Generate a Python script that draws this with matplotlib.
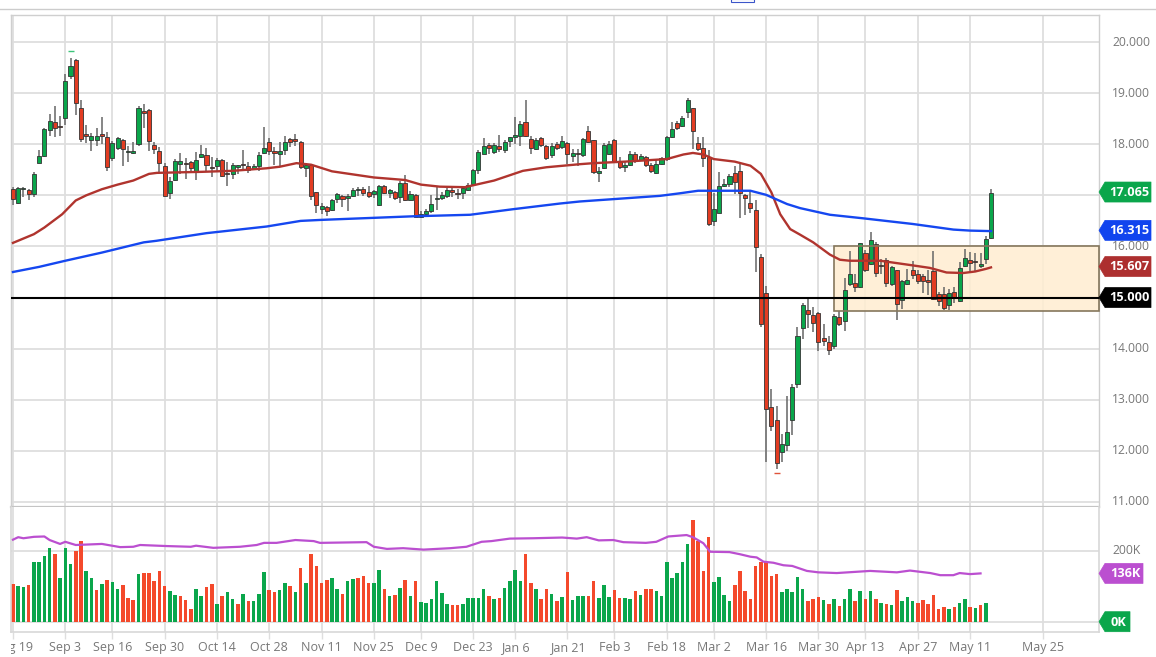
import matplotlib
matplotlib.use("Agg")
import matplotlib.pyplot as plt
from matplotlib.patches import Polygon, Rectangle
from matplotlib.transforms import Bbox, IdentityTransform

# daily candles
opens = [
    17.12, 16.86, 17.12, 17.10, 17.02, 17.63, 17.77, 18.28, 18.44, 18.35,
    18.51, 19.34, 19.64, 18.71, 18.20, 18.08, 18.09, 18.19, 18.14, 17.74,
    17.92, 18.09, 17.84, 17.83, 18.01, 18.64, 18.67, 17.98, 17.87, 17.58,
    17.04, 17.31, 17.61, 17.62, 17.65, 17.48, 17.76, 17.79, 17.54, 17.58,
    17.69, 17.43, 17.41, 17.56, 17.61, 17.58, 17.53, 17.57, 17.82, 18.05,
    17.86, 17.80, 17.88, 18.10, 18.11, 18.05, 17.54, 17.60, 17.06, 16.74,
    16.77, 16.71, 16.92, 16.99, 16.94, 16.99, 17.10, 17.13, 17.07, 17.02,
    16.81, 17.18, 17.04, 17.07, 16.96, 17.25, 16.91, 17.01, 16.58, 16.63,
    16.69, 16.92, 16.95, 16.99, 17.09, 17.05, 17.05, 17.10, 17.22, 17.50,
    17.81, 17.99, 17.84, 17.96, 17.89, 18.06, 18.15, 18.17, 18.44, 18.11,
    17.90, 18.12, 17.97, 17.78, 18.01, 17.94, 18.03, 17.77, 17.83, 17.79,
    18.25, 18.08, 17.43, 17.53, 17.81, 18.09, 17.65, 17.55, 17.60, 17.80,
    17.69, 17.75, 17.60, 17.44, 17.61, 17.71, 18.14, 18.42, 18.35, 18.63,
    18.70, 18.03, 17.93, 17.75, 16.49, 16.65, 17.19, 17.22, 17.43, 17.47,
    17.00, 16.86, 16.71, 15.80, 15.08, 12.85, 12.60, 11.97, 12.11, 12.60,
    13.31, 14.40, 14.75, 14.65, 14.69, 14.20, 14.13, 14.05, 14.61, 14.54,
    15.27, 15.29, 15.20, 15.87, 15.66, 16.05, 15.64, 15.74, 15.27, 15.53,
    14.95, 15.27, 15.53, 15.47, 15.42, 15.32, 15.52, 15.06, 15.07, 14.85,
    15.10, 14.93, 15.62, 15.74, 15.70, 15.62, 15.75, 16.17,
]
closes = [
    16.93, 17.14, 17.14, 17.03, 17.41, 17.77, 18.29, 18.45, 18.32, 18.33,
    19.23, 19.54, 18.80, 18.11, 18.16, 18.17, 18.16, 18.17, 17.56, 18.02,
    18.13, 17.91, 17.87, 17.86, 18.71, 18.62, 18.07, 17.90, 17.64, 16.99,
    17.29, 17.67, 17.67, 17.61, 17.53, 17.69, 17.80, 17.60, 17.53, 17.70,
    17.37, 17.41, 17.60, 17.58, 17.59, 17.49, 17.58, 17.79, 17.92, 17.87,
    17.82, 17.86, 18.05, 18.05, 18.06, 17.55, 17.59, 16.99, 16.81, 16.79,
    16.69, 16.90, 17.02, 16.93, 16.99, 17.10, 17.12, 17.05, 16.98, 17.08,
    17.18, 17.04, 17.10, 16.95, 17.25, 16.91, 17.03, 16.58, 16.63, 16.69,
    16.84, 16.94, 17.00, 17.10, 17.07, 17.03, 17.14, 17.21, 17.49, 17.85,
    17.97, 17.92, 17.99, 17.91, 18.04, 18.14, 18.16, 18.39, 18.16, 17.92,
    18.09, 17.98, 17.73, 17.97, 17.92, 18.06, 17.80, 17.82, 17.81, 18.11,
    18.05, 17.45, 17.47, 17.98, 18.01, 17.66, 17.55, 17.60, 17.81, 17.67,
    17.77, 17.59, 17.48, 17.61, 17.73, 18.14, 18.29, 18.31, 18.52, 18.87,
    18.26, 17.91, 17.73, 16.44, 16.73, 17.18, 17.23, 17.38, 17.26, 17.05,
    16.95, 16.76, 15.99, 14.49, 12.81, 12.49, 11.76, 12.13, 12.37, 13.25,
    14.24, 14.86, 14.67, 14.51, 14.13, 14.15, 13.97, 14.64, 14.48, 15.15,
    15.47, 15.20, 16.06, 15.54, 16.12, 15.48, 15.61, 15.29, 15.60, 14.87,
    15.32, 15.34, 15.44, 15.33, 15.32, 15.31, 14.97, 14.94, 14.79, 15.09,
    15.00, 15.57, 15.77, 15.68, 15.69, 15.66, 16.15, 17.05,
]
highs = [
    17.16, 17.16, 17.17, 17.12, 17.45, 17.88, 18.31, 18.60, 18.75, 18.56,
    19.38, 19.69, 19.66, 18.87, 18.38, 18.23, 18.32, 18.54, 18.24, 18.07,
    18.15, 18.11, 17.97, 18.04, 18.74, 18.79, 18.69, 18.04, 17.94, 17.63,
    17.35, 17.71, 17.83, 17.73, 17.68, 17.84, 17.98, 17.92, 17.76, 17.73,
    17.71, 17.65, 17.64, 17.60, 17.88, 17.65, 17.61, 17.84, 18.33, 18.12,
    17.94, 18.04, 18.16, 18.12, 18.20, 18.07, 17.63, 17.61, 17.06, 16.86,
    16.80, 16.93, 17.05, 17.00, 17.03, 17.14, 17.17, 17.17, 17.18, 17.10,
    17.20, 17.20, 17.12, 17.09, 17.29, 17.40, 17.09, 17.03, 16.70, 16.73,
    17.01, 17.17, 17.06, 17.14, 17.14, 17.12, 17.17, 17.24, 17.52, 17.88,
    18.12, 18.03, 18.02, 18.18, 18.09, 18.15, 18.53, 18.45, 18.87, 18.17,
    18.12, 18.14, 17.99, 18.02, 18.04, 18.16, 18.04, 17.90, 17.91, 18.12,
    18.36, 18.09, 17.56, 18.02, 18.07, 18.11, 17.75, 17.68, 17.86, 17.84,
    17.80, 17.77, 17.63, 17.69, 17.76, 18.17, 18.43, 18.45, 18.56, 18.90,
    18.71, 18.14, 18.14, 17.88, 17.05, 17.46, 17.32, 17.42, 17.57, 17.61,
    17.03, 17.09, 16.90, 15.86, 15.23, 13.21, 12.88, 12.32, 13.08, 13.31,
    14.42, 14.90, 14.97, 14.82, 14.71, 14.48, 14.25, 14.68, 14.74, 15.39,
    15.92, 15.46, 16.07, 15.93, 16.28, 16.08, 15.75, 15.77, 15.62, 15.54,
    15.34, 15.56, 15.72, 15.54, 15.46, 15.53, 15.92, 15.10, 15.20, 15.17,
    15.20, 15.69, 15.95, 15.90, 15.87, 15.87, 16.21, 17.12,
]
lows = [
    16.82, 16.83, 16.96, 16.91, 16.96, 17.63, 17.76, 18.16, 18.14, 18.16,
    18.37, 19.28, 18.57, 18.04, 18.02, 17.86, 17.96, 18.01, 17.47, 17.68,
    17.88, 17.58, 17.65, 17.81, 17.97, 18.31, 17.86, 17.80, 17.45, 16.98,
    16.93, 17.29, 17.41, 17.32, 17.43, 17.30, 17.73, 17.45, 17.35, 17.47,
    17.35, 17.18, 17.32, 17.42, 17.47, 17.43, 17.50, 17.48, 17.80, 17.78,
    17.60, 17.58, 17.79, 17.94, 17.97, 17.52, 17.35, 16.90, 16.65, 16.63,
    16.60, 16.69, 16.86, 16.78, 16.70, 16.96, 16.99, 16.99, 16.95, 16.95,
    16.80, 17.03, 16.95, 16.90, 16.86, 16.88, 16.90, 16.57, 16.56, 16.62,
    16.65, 16.71, 16.90, 16.95, 16.96, 16.93, 16.93, 17.08, 17.19, 17.42,
    17.80, 17.81, 17.80, 17.84, 17.82, 17.95, 18.01, 17.97, 18.14, 17.80,
    17.88, 17.94, 17.69, 17.73, 17.89, 17.91, 17.61, 17.65, 17.58, 17.76,
    18.02, 17.42, 17.27, 17.51, 17.78, 17.65, 17.52, 17.45, 17.58, 17.63,
    17.67, 17.56, 17.44, 17.42, 17.60, 17.68, 18.12, 18.28, 18.33, 18.51,
    17.90, 17.86, 17.55, 16.40, 16.40, 16.65, 17.16, 17.16, 17.03, 16.55,
    16.62, 16.65, 15.49, 14.42, 11.78, 12.39, 11.64, 11.78, 12.00, 12.30,
    13.22, 14.19, 14.40, 14.32, 13.95, 14.06, 13.88, 13.99, 14.44, 14.35,
    15.22, 15.10, 15.19, 15.49, 15.64, 15.40, 15.46, 15.20, 15.23, 14.56,
    14.78, 15.25, 15.36, 15.27, 15.08, 15.04, 14.95, 14.84, 14.76, 14.76,
    14.89, 14.91, 15.60, 15.49, 15.51, 15.58, 15.66, 16.15,
]

# volume in thousands, r = red bar, g = green bar
volumes = [
    106, 100, 99, 103, 168, 169, 185, 207, 191, 122, 207, 162, 200, 227, 143, 123,
    90, 106, 117, 111, 91, 102, 68, 61, 133, 136, 136, 114, 144, 100, 86, 74,
    73, 61, 37, 93, 71, 98, 105, 50, 73, 84, 64, 49, 78, 59, 58, 79,
    140, 88, 84, 89, 109, 101, 83, 152, 110, 191, 156, 110, 117, 124, 93, 77,
    115, 120, 124, 129, 108, 110, 146, 91, 72, 75, 94, 117, 73, 115, 55, 52,
    64, 115, 80, 50, 48, 48, 49, 67, 67, 67, 92, 72, 64, 67, 95, 115,
    146, 116, 190, 108, 91, 64, 93, 77, 59, 70, 141, 62, 72, 73, 71, 115,
    66, 103, 69, 89, 68, 66, 65, 87, 76, 91, 91, 87, 72, 167, 122, 136,
    167, 218, 286, 227, 143, 238, 112, 125, 74, 57, 103, 143, 86, 63, 157, 169,
    167, 129, 134, 84, 93, 85, 127, 92, 58, 63, 69, 61, 51, 63, 45, 63,
    93, 58, 86, 65, 86, 64, 54, 51, 47, 89, 58, 69, 59, 52, 61, 50,
    74, 36, 40, 35, 40, 54, 63, 40, 39, 46, 52,
]
volume_sides = (
    "rggrggggrg" "ggrrggrgrg" "grrrgrrrrr" "ggrrrggrrg" "rggrgrgggr"
    "rggrgrgrrr" "rggrggrrrg" "grgrgrgrgg" "ggggrrgggg" "grgrggggrr"
    "grrgrgrggg" "rrgggrrggr" "grrggggggg" "rrrrggggrr" "rrrrrrrggg"
    "ggrrrgrgrg" "grgrgrgrgr" "gggrrrrrrg" "rggrgrg"
)

# moving averages, points
red_ma_at = [0, 4, 6, 9.4, 12, 14, 17, 20, 23, 26, 27.5, 36, 42, 48.5, 51, 54.2, 57, 61, 69, 75,
             78, 81.6, 86.4, 92, 97.5, 102, 108.4, 111, 117, 125, 128.2, 130, 132, 134,
             138, 141, 143, 145, 146.7, 148.6, 150.5, 153, 156.2, 158.1, 160, 165.8,
             171.3, 175.3, 178.5, 181.7, 184, 186, 187]
red_ma = [16.07, 16.24, 16.37, 16.63, 16.90, 17.00, 17.12, 17.21, 17.29, 17.42, 17.44, 17.46,
          17.48, 17.53, 17.56, 17.63, 17.60, 17.47, 17.35, 17.30, 17.21, 17.17, 17.16, 17.29,
          17.48, 17.55, 17.61, 17.63, 17.66, 17.71, 17.80, 17.83, 17.80, 17.71, 17.66, 17.58,
          17.42, 17.06, 16.63, 16.34, 16.23, 16.08, 15.84, 15.74, 15.72, 15.72, 15.64, 15.58,
          15.49, 15.48, 15.51, 15.56, 15.59]
blue_ma_at = [0, 5, 10, 17, 25, 27.4, 37, 48.5, 55, 59, 76.5, 87.4, 95.7, 104.6, 108.4, 123.7,
              127.5, 131, 141, 144, 148, 150.5, 156.2, 162.6, 172, 179.8, 183, 187]
blue_ma = [15.50, 15.60, 15.72, 15.88, 16.08, 16.11, 16.26, 16.39, 16.50, 16.52, 16.59, 16.62,
           16.73, 16.84, 16.88, 16.99, 17.04, 17.09, 17.09, 17.01, 16.83, 16.75, 16.62, 16.55,
           16.44, 16.33, 16.31, 16.30]
vol_ma_at = [0, 1, 2, 4, 6, 7, 9, 10, 12, 17, 20.5, 23, 24.3, 29.4, 34, 35, 38.3, 43.4, 46.6, 48,
             50.4, 54, 57.5, 58.7, 67.6, 69, 71.5, 74.6, 78.5, 83.6, 86.7, 89.6, 91.5, 95, 99.5,
             105, 107.8, 109.7, 112, 114.8, 116.7, 121, 123, 125.3, 128.8, 130, 132, 133.3, 137,
             139, 141, 142.2, 143.5, 145.4, 147.3, 149, 151.8, 154, 157.5, 163.9, 169, 171.5,
             175.4, 177.3, 179.8, 181, 183, 185]
vol_ma = [231, 238, 235, 239, 240, 230, 219, 225, 216, 219, 210, 211, 216, 213, 211, 214, 208,
          211, 216, 222, 222, 230, 227, 222, 224, 211, 205, 207, 203, 207, 211, 225, 227, 234,
          235, 237, 234, 238, 229, 230, 224, 222, 225, 240, 244, 238, 221, 197, 196, 190, 183,
          181, 169, 166, 159, 157, 143, 139, 137, 143, 139, 144, 137, 131, 131, 137, 134, 136]

tick_idx = [0, 10, 19, 29, 39, 49, 59, 69, 78, 88, 96, 106, 115, 125, 134, 144, 154, 163, 173, 183, 197]
tick_labels = ["Aug 19", "Sep 3", "Sep 16", "Sep 30", "Oct 14", "Oct 28", "Nov 11", "Nov 25",
               "Dec 9", "Dec 23", "Jan 6", "Jan 21", "Feb 3", "Feb 18", "Mar 2", "Mar 16",
               "Mar 30", "Apr 13", "Apr 27", "May 11", "May 25"]
price_ticks = [11, 12, 13, 14, 15, 16, 17, 18, 19, 20]
hidden_price_labels = [15, 17]  # covered by the tags on the reference
box_start, box_top, box_bottom = 157, 16.0, 14.74
support = 15.0

W, H = 1156, 657
GREEN = "#0aa64b"
RED = "#e23c22"
GRID = "#dedede"
TEXT = "#777777"
plt.rcParams["font.family"] = ["Open Sans", "DejaVu Sans"]

fig = plt.figure(figsize=(W / 100, H / 100), dpi=100, facecolor="white")


def axes_px(left, top, right, bottom):
    return fig.add_axes([left / W, 1 - bottom / H, (right - left) / W, (bottom - top) / H])


ax = axes_px(11, 15, 1099, 507)
vol = axes_px(11, 507, 1099, 632)
n = len(opens)
xlim = (-0.38, 207.65)

# price panel
ax.set_xlim(*xlim)
ax.set_ylim(10.90, 20.53)
ax.set_axisbelow(True)
ax.set_xticks(tick_idx)
ax.set_yticks(price_ticks)
ax.grid(True, color=GRID, lw=1.3)
ax.tick_params(left=False, right=False, bottom=False, labelbottom=False, labelleft=False)

ax.add_patch(Rectangle((box_start, box_bottom), xlim[1] - box_start, box_top - box_bottom,
                       facecolor=(1.0, 0.93, 0.82, 0.85), edgecolor="none", zorder=1.5))
ax.add_patch(Rectangle((box_start, box_bottom), xlim[1] - box_start, box_top - box_bottom,
                       facecolor="none", edgecolor="#85775c", lw=1.2, zorder=3.5, clip_on=False))

xs = list(range(n))
ax.vlines(xs, lows, highs, color="#666666", lw=1.1, zorder=2)
for i in xs:
    up = closes[i] >= opens[i]
    low_side = min(opens[i], closes[i])
    height = max(abs(closes[i] - opens[i]), 0.025)
    ax.bar(i, height, bottom=low_side, width=0.78, color=GREEN if up else RED,
           edgecolor="#333333", lw=0.6, zorder=3)

ax.plot(red_ma_at, red_ma, color="#b0342e", lw=1.7, zorder=4)
ax.plot(blue_ma_at, blue_ma, color="#1547f0", lw=1.7, zorder=4)
ax.axhline(support, color="black", lw=1.5, zorder=5)

# little high and low flags
ax.plot([11], [19.82], marker="_", ms=4, mew=1, color="#3cc47a", zorder=4)
ax.plot([146], [11.56], marker="_", ms=4, mew=1, color="#e0533a", zorder=4)

for s in ("left", "bottom", "top", "right"):
    ax.spines[s].set_color("#cfcfcf")
    ax.spines[s].set_linewidth(1.0)
ax.spines["bottom"].set_linewidth(1.6)
ax.spines["bottom"].set_color("#c4c4c4")

label_x = 1 + 13 / 1088
for p in price_ticks:
    if p not in hidden_price_labels:
        ax.text(label_x, p, f"{p:.3f}", transform=ax.get_yaxis_transform(), fontsize=8.7,
                color=TEXT, va="center", ha="left", clip_on=False)

# volume panel
vol.set_xlim(*xlim)
vol.set_ylim(-29, 323)
vol.set_axisbelow(True)
vol.set_xticks(tick_idx)
vol.set_yticks([0, 200])
vol.grid(True, color=GRID, lw=1.3)
vol.tick_params(axis="y", left=False, labelleft=False)
vol.tick_params(axis="x", length=5, width=1.0, color=GRID, labelbottom=False)
vol.bar(range(len(volumes)), volumes, width=0.68,
        color=[GREEN if s == "g" else "#f4492b" for s in volume_sides], zorder=2)
vol.plot(vol_ma_at, vol_ma, color="#bb4fd0", lw=1.6, zorder=3)
vol.spines["top"].set_visible(False)
for s in ("left", "bottom", "right"):
    vol.spines[s].set_color("#d8d8d8")
    vol.spines[s].set_linewidth(1.2)
vol.text(label_x, 200, "200K", transform=vol.get_yaxis_transform(), fontsize=8.7,
         color=TEXT, va="center", ha="left", clip_on=False)

# the first date runs under the left edge of the chart
clip = Bbox([[11, 0], [W, H]])
for idx, label in zip(tick_idx, tick_labels):
    t = vol.text(idx, -0.122, label, transform=vol.get_xaxis_transform(), fontsize=9, color=TEXT,
                 ha="center", va="center", clip_on=True)
    t.set_clip_box(clip)


def price_tag(axis, value, text, color, right):
    # tag on the right scale, point towards the chart
    y = axis.transData.transform((0, value))[1]
    x0 = 1099
    pts = [(x0, y), (x0 + 6, y + 10), (right, y + 10), (right, y - 10), (x0 + 6, y - 10)]
    fig.add_artist(Polygon(pts, closed=True, transform=IdentityTransform(), facecolor=color,
                           edgecolor=color, lw=0.5, joinstyle="round", zorder=6))
    fig.text((x0 + 8 + right) / 2 / W, y / H - 0.0005, text, color="white", fontsize=9.2,
             fontweight="bold", ha="center", va="center", zorder=7)


price_tag(ax, 17.065, "17.065", GREEN, 1151)
price_tag(ax, 16.315, "16.315", "#1144ee", 1151)
price_tag(ax, 15.607, "15.607", "#ad2f2f", 1151)
price_tag(ax, 15.0, "15.000", "black", 1151)
price_tag(vol, 136, "136K", "#bb4fd0", 1143)
price_tag(vol, 0, "0K", GREEN, 1130)

# page furniture above the chart
fig.add_artist(plt.Line2D([0, 1], [1 - 8.5 / H, 1 - 8.5 / H], color="#cccccc", lw=1))
fig.add_artist(Rectangle((731 / W, 1 - 2 / H), 23 / W, 3 / H, transform=fig.transFigure,
                         facecolor="white", edgecolor="#3b55c9", lw=0.8))

fig.savefig("out.png", dpi=100)
